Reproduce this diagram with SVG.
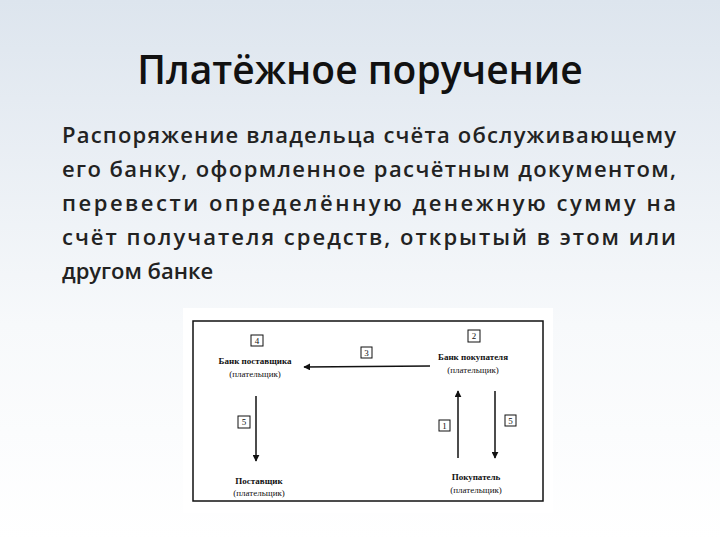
<svg xmlns="http://www.w3.org/2000/svg" width="720" height="540" viewBox="0 0 720 540">
<defs>
<linearGradient id="bg" x1="0" y1="0" x2="0" y2="1"><stop offset="0" stop-color="#dde5ee"/><stop offset="0.6" stop-color="#f7f9fb"/><stop offset="1" stop-color="#ffffff"/></linearGradient>
<marker id="ah" viewBox="0 0 10 10" refX="9" refY="5" markerWidth="7" markerHeight="7" markerUnits="userSpaceOnUse" orient="auto"><path d="M0,0 L10,5 L0,10 z" fill="#111"/></marker>
<style>
.t{font-family:"Open Sans","Noto Sans",sans-serif;fill:#111}
.body{font-size:22px;font-weight:600;fill:#222}
.s{font-family:"Liberation Serif",serif;font-size:9px;fill:#111;text-anchor:middle}
.n{font-family:"Liberation Serif",serif;font-size:9px;fill:#111;text-anchor:middle}
.b{fill:#fff;stroke:#111;stroke-width:1}
.a{stroke:#111;stroke-width:1.5;fill:none;marker-end:url(#ah)}
</style>
</defs>
<rect width="720" height="540" fill="url(#bg)"/>
<text class="t" x="360" y="84" font-size="39" text-anchor="middle" font-weight="600">Платёжное поручение</text>
<g class="t body">
<text x="62" y="143" textLength="614" lengthAdjust="spacing">Распоряжение владельца счёта обслуживающему</text>
<text x="62" y="177" textLength="614" lengthAdjust="spacing">его банку, оформленное расчётным документом,</text>
<text x="62" y="211" textLength="614" lengthAdjust="spacing">перевести  определённую  денежную  сумму  на</text>
<text x="62" y="245" textLength="614" lengthAdjust="spacing">счёт  получателя  средств,  открытый  в  этом  или</text>
<text x="62" y="279">другом банке</text>
</g>
<rect x="183" y="308" width="370" height="205" fill="#fff"/>
<rect x="193" y="321" width="350" height="180" fill="none" stroke="#111" stroke-width="1.5"/>
<g id="connectors">
<line class="a" x1="430" y1="366" x2="304" y2="367"/>
<line class="a" x1="256" y1="396" x2="256" y2="461"/>
<line class="a" x1="458" y1="458" x2="458" y2="391"/>
<line class="a" x1="495" y1="391" x2="495" y2="458"/>
</g>
<g id="bank-supplier"><rect class="b" x="251" y="335" width="12" height="11"/><text class="n" x="257" y="344">4</text><text class="s" x="255" y="364" font-weight="bold">Банк поставщика</text><text class="s" x="255" y="377">(плательщик)</text></g>
<g id="bank-buyer"><rect class="b" x="468" y="330" width="12" height="12"/><text class="n" x="474" y="339">2</text><text class="s" x="473" y="360" font-weight="bold">Банк покупателя</text><text class="s" x="473" y="373">(плательщик)</text></g>
<g id="label3"><rect class="b" x="361" y="347" width="11" height="11"/><text class="n" x="366.5" y="356">3</text></g>
<g id="label5l"><rect class="b" x="238" y="416" width="12" height="12"/><text class="n" x="244" y="425">5</text></g>
<g id="label1"><rect class="b" x="439" y="420" width="11" height="11"/><text class="n" x="444.5" y="429">1</text></g>
<g id="label5r"><rect class="b" x="505" y="415" width="11" height="11"/><text class="n" x="510.5" y="424">5</text></g>
<g id="supplier"><text class="s" x="259" y="484" font-weight="bold">Поставщик</text><text class="s" x="259" y="496">(плательщик)</text></g>
<g id="buyer"><text class="s" x="476" y="480" font-weight="bold">Покупатель</text><text class="s" x="476" y="493">(плательщик)</text></g>
</svg>
